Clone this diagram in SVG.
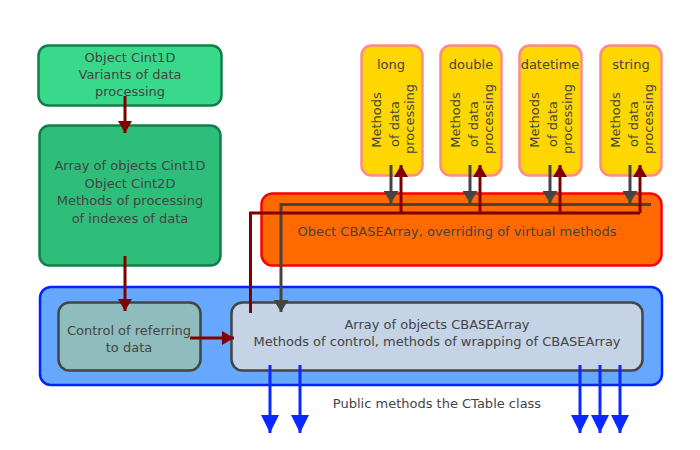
<svg xmlns="http://www.w3.org/2000/svg" width="700" height="450" viewBox="0 0 700 450">
<defs>
<style>
text{font-family:"DejaVu Sans","Liberation Sans",sans-serif;font-size:13px;fill:#444444;text-anchor:middle}
.g1{fill:#38d98a;stroke:#10804a;stroke-width:2.5}
.g2{fill:#2fbd7a;stroke:#10804a;stroke-width:2.5}
.y{fill:#ffd700;stroke:#ff8a8a;stroke-width:2.5}
.gray{fill:none;stroke:#444444;stroke-width:3}
.red{fill:none;stroke:#800000;stroke-width:3}
.blue{fill:none;stroke:#0a28ff;stroke-width:3}
</style>
<marker id="ar" viewBox="0 0 12 14" refX="12" refY="7" markerWidth="12" markerHeight="14" markerUnits="userSpaceOnUse" orient="auto"><path d="M0,0 L12,7 L0,14 Z" fill="#800000"/></marker>
<marker id="ag" viewBox="0 0 12 15" refX="12" refY="7.5" markerWidth="12" markerHeight="15" markerUnits="userSpaceOnUse" orient="auto"><path d="M0,0 L12,7.5 L0,15 Z" fill="#444444"/></marker>
<marker id="ab" viewBox="0 0 18 18" refX="18" refY="9" markerWidth="18" markerHeight="18" markerUnits="userSpaceOnUse" orient="auto"><path d="M0,0 L18,9 L0,18 Z" fill="#0a28ff"/></marker>
</defs>

<g id="container">
<rect x="40" y="287" width="622" height="98" rx="11" fill="#66a8ff" stroke="#0022ff" stroke-width="2.5"/>
<text x="437" y="408">Public methods the CTable class</text>
</g>

<g id="cint1d">
<rect class="g1" x="38.5" y="45.5" width="183" height="60" rx="10"/>
<text x="130" y="62">Object Cint1D</text>
<text x="130" y="79">Variants of data</text>
<text x="130" y="96">processing</text>
</g>

<g id="cint2d">
<rect class="g2" x="39.5" y="125.5" width="181" height="140" rx="10"/>
<text x="130" y="170">Array of objects Cint1D</text>
<text x="130" y="188">Object Cint2D</text>
<text x="130" y="205">Methods of processing</text>
<text x="130" y="223">of indexes of data</text>
</g>

<g id="cbasearray">
<rect x="261.5" y="193.5" width="400" height="72" rx="11" fill="#ff6a00" stroke="#ff0000" stroke-width="2.5"/>
<text x="457" y="236">Obect CBASEArray, overriding of virtual methods</text>
</g>

<g id="long">
<rect class="y" x="361.5" y="45.5" width="61" height="130" rx="10"/>
<text x="391" y="69">long</text>
<text transform="translate(381,120) rotate(-90)">Methods</text>
<text transform="translate(399,124) rotate(-90)">of data</text>
<text transform="translate(414,119) rotate(-90)">processing</text>
</g>

<g id="double">
<rect class="y" x="440.5" y="45.5" width="61" height="130" rx="10"/>
<text x="471" y="69">double</text>
<text transform="translate(460,120) rotate(-90)">Methods</text>
<text transform="translate(478,124) rotate(-90)">of data</text>
<text transform="translate(493,119) rotate(-90)">processing</text>
</g>

<g id="datetime">
<rect class="y" x="519.5" y="45.5" width="62" height="130" rx="10"/>
<text x="550" y="69">datetime</text>
<text transform="translate(539,120) rotate(-90)">Methods</text>
<text transform="translate(557,124) rotate(-90)">of data</text>
<text transform="translate(572,119) rotate(-90)">processing</text>
</g>

<g id="string">
<rect class="y" x="600.5" y="45.5" width="61" height="130" rx="10"/>
<text x="631" y="69">string</text>
<text transform="translate(620,120) rotate(-90)">Methods</text>
<text transform="translate(638,124) rotate(-90)">of data</text>
<text transform="translate(653,119) rotate(-90)">processing</text>
</g>

<g id="control">
<rect x="58.5" y="302.5" width="142" height="68" rx="11" fill="#8fbcbc" stroke="#444444" stroke-width="2.5"/>
<text x="129" y="335">Control of referring</text>
<text x="129" y="352">to data</text>
</g>

<g id="arrayobj">
<rect x="231.5" y="302.5" width="411" height="68" rx="11" fill="#c5d3e6" stroke="#444444" stroke-width="2.5"/>
<text x="437" y="329">Array of objects CBASEArray</text>
<text x="437" y="346">Methods of control, methods of wrapping of CBASEArray</text>
</g>

<g id="connectors">
<path class="red" d="M125,96 V133" marker-end="url(#ar)"/>
<path class="red" d="M125,256 V311" marker-end="url(#ar)"/>
<path class="red" d="M190,338 H234" marker-end="url(#ar)"/>
<path class="gray" d="M651,204.5 H281 V312" marker-end="url(#ag)"/>
<path class="gray" d="M391,165 V203" marker-end="url(#ag)"/>
<path class="gray" d="M470,165 V203" marker-end="url(#ag)"/>
<path class="gray" d="M550,165 V203" marker-end="url(#ag)"/>
<path class="gray" d="M630,165 V203" marker-end="url(#ag)"/>
<path class="red" d="M640,213 H250.5 V313"/>
<path class="red" d="M401,213 V165" marker-end="url(#ar)"/>
<path class="red" d="M480,213 V165" marker-end="url(#ar)"/>
<path class="red" d="M560,213 V165" marker-end="url(#ar)"/>
<path class="red" d="M640,213 V165" marker-end="url(#ar)"/>
<path class="blue" d="M270,365 V433" marker-end="url(#ab)"/>
<path class="blue" d="M300,365 V433" marker-end="url(#ab)"/>
<path class="blue" d="M580,365 V433" marker-end="url(#ab)"/>
<path class="blue" d="M600,365 V433" marker-end="url(#ab)"/>
<path class="blue" d="M620,365 V433" marker-end="url(#ab)"/>
</g>
</svg>
